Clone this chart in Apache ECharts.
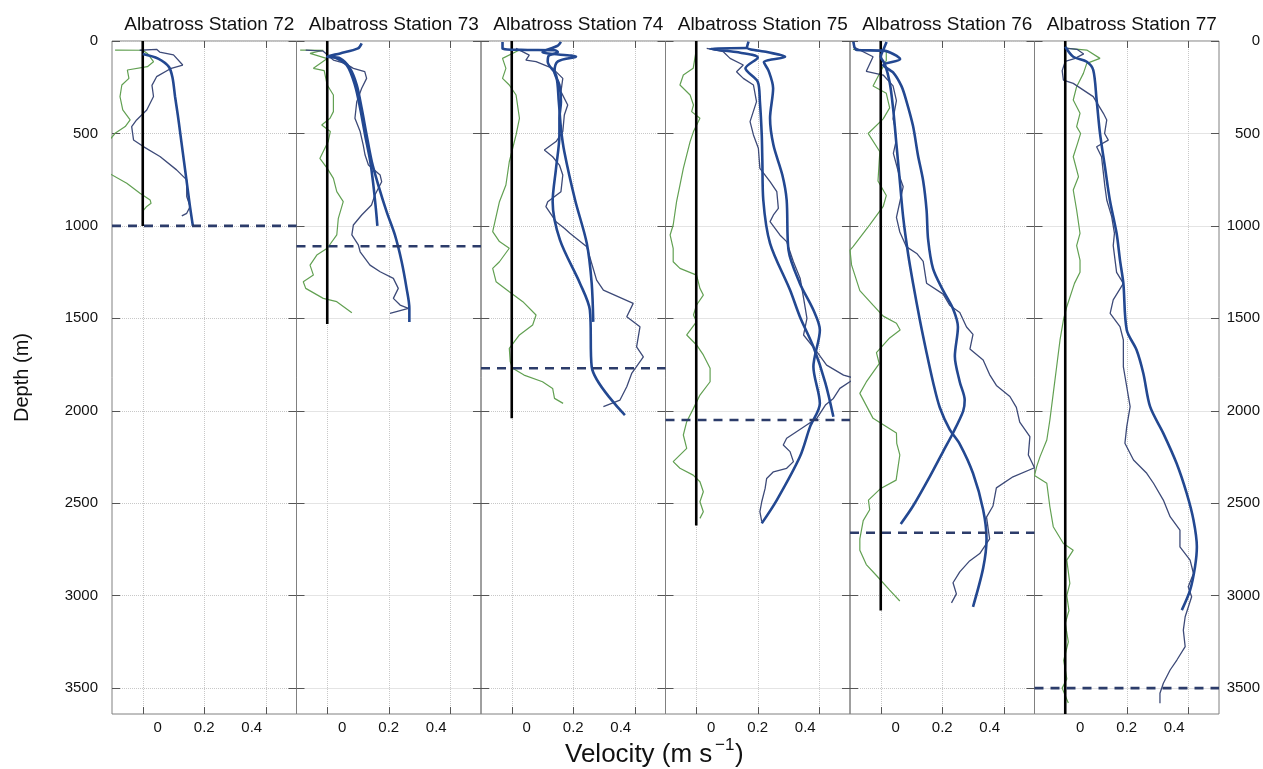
<!DOCTYPE html>
<html>
<head>
    <meta charset="utf-8">
    <title>Albatross Stations velocity profiles</title>
    <script src="https://cdn.jsdelivr.net/npm/echarts@6/dist/echarts.min.js"></script>
</head>
<body style="margin:0;background:#fff">
    <div id="main" style="width:1263px;height:769px"></div>
    <script type="text/javascript">
        // axis ranges and ticks
        var stations = ['Albatross Station 72', 'Albatross Station 73', 'Albatross Station 74',
            'Albatross Station 75', 'Albatross Station 76', 'Albatross Station 77'];
        var velMin = -0.1, velMax = 0.5;
        var velTicks = [0, 0.2, 0.4];
        var depthMax = 3640;
        var depthTicks = [0, 500, 1000, 1500, 2000, 2500, 3000, 3500];

        // bottom of the black zero line and depth of the dashed line, per station
        var zeroLineEnds = [1000, 1530, 2040, 2620, 3080, 3640];
        var dashDepths = [1000, 1110, 1770, 2050, 2660, 3500];

        // profiles: [velocity, depth]
        var green72 = [[-0.09, 49], [0.0, 50], [0.015, 67], [0.035, 112], [0.015, 139], [-0.05, 157], [-0.045, 202], [-0.068, 238], [-0.074, 301], [-0.065, 373], [-0.041, 427], [-0.057, 463], [-0.09, 499], [-0.11, 540], [-0.13, 620], [-0.11, 715], [-0.052, 769], [-0.009, 823], [0.024, 860], [0.027, 878], [0.013, 895], [0.0, 920], [0.002, 950]];
        var dark72 = [[-0.01, 50], [0.045, 45], [0.055, 60], [0.1, 75], [0.13, 130], [0.09, 150], [0.045, 193], [0.03, 240], [0.035, 300], [0.013, 373], [-0.02, 427], [-0.036, 463], [-0.03, 535], [0.002, 571], [0.056, 625], [0.11, 697], [0.143, 751], [0.143, 841], [0.154, 895], [0.143, 932], [0.127, 946]];
        var thick72 = [[0.0, 70], [0.05, 95], [0.085, 140], [0.097, 200], [0.105, 300], [0.114, 400], [0.122, 500], [0.13, 600], [0.138, 700], [0.146, 800], [0.154, 900], [0.163, 1000]];

        var green73 = [[-0.088, 49], [-0.013, 50], [-0.056, 67], [0.0, 95], [-0.045, 148], [-0.01, 160], [0.0, 238], [0.02, 292], [0.02, 382], [0.009, 418], [-0.018, 454], [0.01, 490], [0.003, 544], [-0.024, 635], [0.0, 689], [0.02, 743], [0.031, 815], [0.052, 869], [0.036, 959], [0.031, 1049], [0.0, 1121], [-0.034, 1158], [-0.056, 1212], [-0.045, 1266], [-0.078, 1302], [-0.07, 1338], [-0.013, 1392], [0.031, 1410], [0.08, 1470]];
        var dark73 = [[-0.07, 49], [-0.013, 55], [0.02, 103], [0.058, 121], [0.085, 148], [0.122, 166], [0.128, 202], [0.112, 256], [0.096, 328], [0.09, 418], [0.107, 490], [0.117, 563], [0.123, 617], [0.134, 671], [0.172, 725], [0.177, 761], [0.155, 833], [0.144, 887], [0.112, 941], [0.085, 995], [0.08, 1049], [0.101, 1103], [0.107, 1140], [0.139, 1212], [0.172, 1248], [0.215, 1284], [0.231, 1338], [0.215, 1392], [0.237, 1428], [0.264, 1446], [0.204, 1473]];
        var thick73a = [[0.112, 13], [0.1, 40], [0.042, 67], [0.0, 85], [0.042, 94], [0.074, 148], [0.096, 238], [0.112, 364], [0.128, 508], [0.145, 653], [0.166, 779], [0.193, 923], [0.22, 1049], [0.242, 1194], [0.258, 1338], [0.267, 1446], [0.267, 1520]];
        var thick73b = [[0.02, 85], [0.063, 130], [0.09, 238], [0.107, 364], [0.123, 508], [0.14, 653], [0.15, 779], [0.158, 905], [0.163, 1000]];

        var green74 = [[0.025, 49], [-0.03, 94], [-0.019, 148], [-0.03, 202], [-0.008, 238], [0.014, 292], [0.025, 418], [0.014, 508], [-0.008, 653], [-0.019, 779], [-0.04, 869], [-0.062, 1031], [-0.04, 1085], [-0.008, 1121], [-0.04, 1194], [-0.062, 1230], [-0.051, 1302], [-0.008, 1356], [0.036, 1410], [0.079, 1482], [0.068, 1536], [0.025, 1590], [-0.008, 1662], [-0.005, 1734], [0.003, 1770], [0.04, 1807], [0.1, 1843], [0.133, 1879], [0.139, 1933], [0.167, 1960]];
        var dark74 = [[0.014, 40], [0.057, 76], [0.046, 103], [0.079, 112], [0.133, 148], [0.166, 202], [0.16, 274], [0.182, 346], [0.171, 400], [0.166, 490], [0.144, 544], [0.106, 590], [0.133, 626], [0.155, 671], [0.166, 725], [0.16, 815], [0.117, 869], [0.111, 896], [0.144, 977], [0.171, 1013], [0.189, 1040], [0.244, 1113], [0.276, 1293], [0.298, 1347], [0.395, 1419], [0.374, 1491], [0.417, 1546], [0.406, 1654], [0.428, 1708], [0.39, 1798], [0.374, 1870], [0.352, 1942], [0.298, 1978]];
        var thick74a = [[-0.03, 5], [-0.03, 40], [0.03, 48], [0.14, 50], [0.15, 60], [0.12, 80], [0.117, 112], [0.144, 184], [0.153, 328], [0.16, 472], [0.171, 599], [0.206, 860], [0.244, 1094], [0.26, 1311], [0.265, 1519]];
        var thick74b = [[0.16, 5], [0.15, 25], [0.1, 60], [0.209, 85], [0.15, 110], [0.139, 166], [0.155, 238], [0.16, 328], [0.155, 418], [0.155, 508], [0.144, 689], [0.133, 869], [0.157, 1077], [0.222, 1311], [0.254, 1455], [0.26, 1762], [0.368, 2023]];

        var green75 = [[0.0, 49], [-0.01, 148], [-0.042, 184], [-0.053, 238], [-0.02, 292], [-0.009, 346], [-0.015, 382], [0.012, 418], [-0.009, 490], [-0.02, 544], [-0.042, 689], [-0.053, 779], [-0.064, 869], [-0.075, 995], [-0.085, 1049], [-0.075, 1121], [-0.075, 1194], [-0.053, 1230], [0.001, 1266], [0.012, 1338], [0.023, 1374], [0.001, 1428], [-0.009, 1482], [0.001, 1518], [-0.031, 1590], [0.001, 1644], [0.023, 1698], [0.045, 1770], [0.045, 1843], [0.012, 1915], [-0.009, 1987], [-0.031, 2059], [-0.042, 2131], [-0.031, 2203], [-0.075, 2275], [-0.053, 2311], [-0.01, 2348], [0.012, 2384], [0.023, 2438], [0.012, 2492], [0.023, 2546], [0.012, 2582]];
        var dark75 = [[0.034, 40], [0.088, 58], [0.11, 94], [0.153, 130], [0.131, 166], [0.153, 202], [0.186, 238], [0.196, 328], [0.175, 436], [0.186, 508], [0.202, 580], [0.207, 689], [0.24, 761], [0.262, 815], [0.267, 905], [0.251, 941], [0.24, 977], [0.272, 1049], [0.294, 1085], [0.316, 1194], [0.338, 1284], [0.35, 1400], [0.36, 1500], [0.349, 1590], [0.392, 1680], [0.424, 1753], [0.479, 1807], [0.516, 1825], [0.467, 1879], [0.446, 1933], [0.42, 1969], [0.392, 2041], [0.359, 2077], [0.326, 2113], [0.294, 2149], [0.283, 2185], [0.305, 2221], [0.316, 2275], [0.294, 2311], [0.251, 2330], [0.229, 2366], [0.224, 2420], [0.213, 2492], [0.207, 2546], [0.213, 2600]];
        var thick75a = [[0.165, 38], [0.045, 42], [0.13, 60], [0.2, 90], [0.16, 148], [0.2, 220], [0.207, 328], [0.213, 508], [0.215, 653], [0.218, 860], [0.24, 1094], [0.305, 1347], [0.337, 1491], [0.381, 1654], [0.42, 1850], [0.446, 2032]];
        var thick75b = [[0.17, 4], [0.165, 35], [0.23, 60], [0.289, 85], [0.22, 115], [0.235, 160], [0.25, 256], [0.24, 418], [0.251, 563], [0.28, 725], [0.294, 860], [0.3, 1131], [0.337, 1311], [0.381, 1455], [0.402, 1563], [0.381, 1762], [0.402, 1960], [0.37, 2087], [0.337, 2249], [0.262, 2483], [0.213, 2609]];

        var green76 = [[-0.09, 45], [0.018, 55], [0.018, 105], [-0.025, 243], [0.018, 283], [0.029, 362], [0.008, 421], [-0.041, 500], [-0.003, 599], [-0.009, 757], [0.018, 836], [0.008, 895], [-0.036, 994], [-0.09, 1112], [-0.1, 1131], [-0.095, 1211], [-0.068, 1350], [-0.025, 1429], [0.008, 1488], [0.051, 1527], [0.063, 1563], [0.029, 1606], [-0.014, 1686], [-0.005, 1745], [-0.047, 1844], [-0.068, 1906], [-0.025, 2041], [0.051, 2120], [0.052, 2176], [0.062, 2239], [0.055, 2318], [0.05, 2375], [0.0, 2420], [-0.04, 2483], [-0.036, 2535], [-0.057, 2594], [-0.068, 2693], [-0.068, 2754], [-0.047, 2832], [-0.014, 2891], [0.029, 2970], [0.062, 3029]];
        var dark76 = [[-0.09, 30], [-0.025, 85], [-0.047, 164], [0.008, 184], [0.04, 243], [0.051, 322], [0.04, 421], [0.046, 463], [0.05, 540], [0.041, 608], [0.062, 737], [0.073, 788], [0.051, 954], [0.062, 1033], [0.083, 1112], [0.117, 1149], [0.138, 1192], [0.149, 1310], [0.203, 1369], [0.224, 1429], [0.257, 1468], [0.279, 1547], [0.3, 1587], [0.29, 1666], [0.333, 1725], [0.354, 1804], [0.376, 1863], [0.42, 1923], [0.441, 1982], [0.452, 2061], [0.485, 2140], [0.48, 2239], [0.5, 2308], [0.43, 2357], [0.376, 2417], [0.365, 2515], [0.344, 2575], [0.354, 2693], [0.322, 2772], [0.289, 2812], [0.257, 2871], [0.235, 2930], [0.246, 2990], [0.23, 3039]];
        var thick76a = [[-0.089, 4], [-0.078, 49], [0.008, 52], [0.063, 99], [0.008, 130], [0.04, 170], [0.067, 243], [0.083, 322], [0.105, 460], [0.121, 618], [0.138, 757], [0.149, 915], [0.154, 1073], [0.17, 1231], [0.203, 1350], [0.235, 1448], [0.251, 1547], [0.241, 1705], [0.257, 1844], [0.273, 1942], [0.268, 2002], [0.235, 2120], [0.203, 2219], [0.159, 2357], [0.105, 2515], [0.065, 2612]];
        var thick76b = [[0.019, 5], [0.008, 49], [0.0, 85], [0.013, 124], [0.029, 223], [0.04, 362], [0.051, 559], [0.062, 757], [0.073, 954], [0.089, 1152], [0.105, 1310], [0.127, 1508], [0.149, 1686], [0.17, 1844], [0.192, 1982], [0.224, 2100], [0.257, 2180], [0.3, 2338], [0.333, 2535], [0.344, 2693], [0.333, 2851], [0.3, 3060]];

        var green77 = [[0.0, 39], [0.07, 49], [0.113, 94], [0.07, 121], [0.059, 175], [0.037, 247], [0.026, 319], [0.048, 391], [0.037, 463], [0.05, 500], [0.04, 554], [0.026, 626], [0.043, 734], [0.026, 806], [0.037, 914], [0.048, 1040], [0.037, 1107], [0.048, 1185], [0.048, 1251], [0.03, 1311], [0.005, 1437], [-0.006, 1509], [-0.017, 1617], [-0.028, 1762], [-0.039, 1906], [-0.05, 2050], [-0.06, 2158], [-0.082, 2248], [-0.093, 2302], [-0.1, 2350], [-0.06, 2392], [-0.05, 2519], [-0.039, 2627], [-0.006, 2718], [0.026, 2754], [0.005, 2808], [0.015, 2934], [0.005, 3000], [0.012, 3080], [0.0, 3150], [0.01, 3250], [-0.005, 3350], [0.005, 3450], [-0.01, 3500], [0.01, 3580]];
        var dark77 = [[0.0, 39], [0.038, 45], [0.06, 70], [0.03, 95], [0.0, 110], [-0.01, 160], [-0.006, 211], [0.026, 229], [0.091, 301], [0.124, 391], [0.135, 427], [0.128, 500], [0.14, 536], [0.102, 572], [0.118, 626], [0.129, 788], [0.135, 860], [0.151, 950], [0.16, 1040], [0.156, 1107], [0.167, 1251], [0.189, 1311], [0.156, 1400], [0.146, 1473], [0.178, 1545], [0.189, 1617], [0.189, 1762], [0.2, 1870], [0.211, 1978], [0.2, 2086], [0.194, 2176], [0.222, 2266], [0.265, 2338], [0.287, 2392], [0.319, 2483], [0.341, 2573], [0.373, 2645], [0.373, 2736], [0.406, 2808], [0.417, 2880], [0.4, 2952], [0.411, 3006], [0.39, 3114], [0.384, 3186], [0.39, 3276], [0.363, 3348], [0.341, 3402], [0.319, 3474], [0.308, 3528], [0.308, 3582]];
        var thick77 = [[0.0, 31], [0.026, 85], [0.07, 112], [0.091, 157], [0.102, 319], [0.113, 500], [0.129, 680], [0.145, 860], [0.167, 1040], [0.178, 1185], [0.189, 1311], [0.2, 1563], [0.232, 1671], [0.254, 1798], [0.276, 1978], [0.319, 2122], [0.362, 2284], [0.395, 2447], [0.417, 2591], [0.428, 2736], [0.422, 2844], [0.406, 2970], [0.379, 3078]];

        var greenLines = [green72, green73, green74, green75, green76, green77];
        var darkLines = [dark72, dark73, dark74, dark75, dark76, dark77];
        var thickLines = [[thick72], [thick73a, thick73b], [thick74a, thick74b],
            [thick75a, thick75b], [thick76a, thick76b], [thick77]];

        var myChart = echarts.init(document.getElementById('main'), null, { renderer: 'canvas' });

        var font = '"Liberation Sans", Arial, Helvetica, sans-serif';
        var panelLeft = 112, panelW = 184.5, panelTop = 41, panelH = 673;

        var grids = [], xAxes = [], yAxes = [], titles = [], series = [];

        function lineSeries(i, data, color, width, extra) {
            var s = {
                type: 'line',
                xAxisIndex: 2 * i,
                yAxisIndex: 2 * i,
                data: data,
                showSymbol: false,
                symbol: 'none',
                silent: true,
                animation: false,
                lineStyle: { color: color, width: width }
            };
            for (var k in extra) s[k] = extra[k];
            return s;
        }

        function plain(v) { return String(v); }

        stations.forEach(function (name, i) {
            var left = panelLeft + i * panelW;
            grids.push({
                left: left, top: panelTop, width: panelW, height: panelH,
                show: true, borderColor: '#808080', borderWidth: 1, backgroundColor: 'transparent'
            });
            titles.push({
                text: name, left: left + panelW / 2, top: 10, textAlign: 'center',
                textStyle: { fontFamily: font, fontSize: 19, fontWeight: 'normal', color: '#111' }
            });

            // bottom velocity axis carries the labels, the top one only ticks
            xAxes.push({
                gridIndex: i, type: 'value', position: 'bottom', min: velMin, max: velMax,
                axisLine: { show: false, onZero: false },
                axisTick: { inside: true, length: 7, customValues: velTicks, lineStyle: { color: '#555' } },
                axisLabel: {
                    customValues: velTicks, margin: 6,
                    formatter: function (v) {
                        if (v === 0) return '{l|0}';
                        if (v > 0.3) return '{r|' + v + '}';
                        return '{c|' + v + '}';
                    },
                    rich: {
                        l: { fontFamily: font, fontSize: 15, color: '#111', padding: [0, 0, 0, 30] },
                        c: { fontFamily: font, fontSize: 15, color: '#111' },
                        r: { fontFamily: font, fontSize: 15, color: '#111', padding: [0, 28, 0, 0] }
                    }
                },
                splitLine: { show: true, lineStyle: { type: 'dotted', color: '#c8c8c8', width: 1 } }
            });
            xAxes.push({
                gridIndex: i, type: 'value', position: 'top', min: velMin, max: velMax,
                axisLine: { show: false, onZero: false },
                axisTick: { inside: true, length: 7, customValues: velTicks, lineStyle: { color: '#555' } },
                axisLabel: { show: false },
                splitLine: { show: false }
            });

            yAxes.push({
                gridIndex: i, type: 'value', position: 'left', inverse: true, min: 0, max: depthMax,
                name: i === 0 ? 'Depth (m)' : '', nameLocation: 'middle', nameGap: 80, nameRotate: 90,
                nameTextStyle: { fontFamily: font, fontSize: 20, color: '#111' },
                axisLine: { show: false, onZero: false },
                axisTick: { inside: true, length: 8, customValues: depthTicks, lineStyle: { color: '#555' } },
                axisLabel: { show: i === 0, customValues: depthTicks, formatter: plain, margin: 14, fontFamily: font, fontSize: 15, color: '#111' },
                splitLine: { show: true, lineStyle: { type: 'dotted', color: '#c8c8c8', width: 1 } }
            });
            yAxes.push({
                gridIndex: i, type: 'value', position: 'right', inverse: true, min: 0, max: depthMax,
                axisLine: { show: false, onZero: false },
                axisTick: { inside: true, length: 8, customValues: depthTicks, lineStyle: { color: '#555' } },
                axisLabel: { show: i === 5, customValues: depthTicks, formatter: plain, align: 'right', margin: 41, fontFamily: font, fontSize: 15, color: '#111' },
                splitLine: { show: false }
            });

            series.push(lineSeries(i, greenLines[i], '#62a052', 1.2));
            series.push(lineSeries(i, darkLines[i], '#3d4a78', 1.3));
            series.push(lineSeries(i, [[0, 0], [0, zeroLineEnds[i]]], '#000', 2.6));
            thickLines[i].forEach(function (t) {
                series.push(lineSeries(i, t, '#234891', 2.6, { smooth: 0.3 }));
            });
            series.push(lineSeries(i, [[velMin, dashDepths[i]], [velMax, dashDepths[i]]], '#2c3c6a', 2.6,
                { lineStyle: { color: '#2c3c6a', width: 2.6, type: [9, 7] } }));
        });

        var labelStyle = { fontFamily: font, fontSize: 26, fill: '#111' };
        var option = {
            backgroundColor: '#fff',
            animation: false,
            title: titles,
            grid: grids,
            xAxis: xAxes,
            yAxis: yAxes,
            series: series,
            graphic: [
                { type: 'text', left: 565, top: 742, style: Object.assign({ text: 'Velocity (m s' }, labelStyle) },
                { type: 'text', left: 715, top: 737, style: { text: '\u22121', fontFamily: font, fontSize: 17, fill: '#111' } },
                { type: 'text', left: 735, top: 742, style: Object.assign({ text: ')' }, labelStyle) }
            ]
        };

        myChart.setOption(option);
    </script>
</body>
</html>
